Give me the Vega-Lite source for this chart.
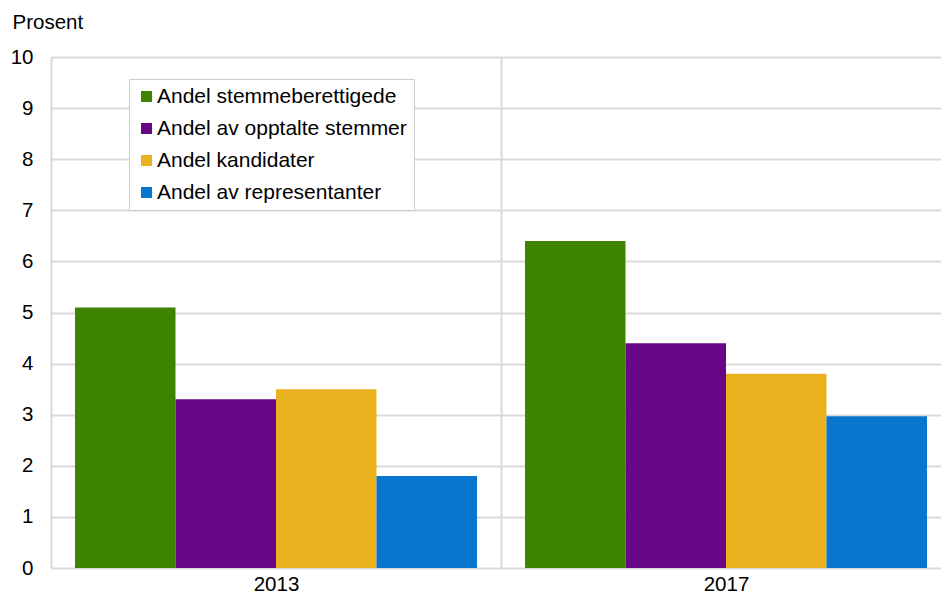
{
  "$schema": "https://vega.github.io/schema/vega-lite/v6.json",
  "autosize": "none",
  "padding": {"left": 51, "top": 57, "right": 0, "bottom": 27},
  "width": 900,
  "height": 511,
  "background": "white",
  "config": {
    "font": "Liberation Sans",
    "view": {"stroke": null}
  },
  "data": {
    "values": [
      {"year": "2013", "serie": "Andel stemmeberettigede", "value": 5.1},
      {"year": "2013", "serie": "Andel av opptalte stemmer", "value": 3.3},
      {"year": "2013", "serie": "Andel kandidater", "value": 3.5},
      {"year": "2013", "serie": "Andel av representanter", "value": 1.8},
      {"year": "2017", "serie": "Andel stemmeberettigede", "value": 6.4},
      {"year": "2017", "serie": "Andel av opptalte stemmer", "value": 4.4},
      {"year": "2017", "serie": "Andel kandidater", "value": 3.8},
      {"year": "2017", "serie": "Andel av representanter", "value": 2.97}
    ]
  },
  "mark": {"type": "bar"},
  "encoding": {
    "x": {
      "field": "year",
      "type": "nominal",
      "scale": {"paddingInner": 0, "paddingOuter": 0},
      "axis": {
        "title": null,
        "labelAngle": 0,
        "labelFont": "Liberation Sans",
        "labelFontSize": 20.5,
        "labelColor": "#000000",
        "labelPadding": 6,
        "ticks": false,
        "domain": false,
        "grid": true,
        "tickBand": "extent",
        "gridColor": "#d9d9d9",
        "gridWidth": 2,
        "gridOpacity": 1
      }
    },
    "xOffset": {
      "field": "serie",
      "type": "nominal",
      "sort": ["Andel stemmeberettigede", "Andel av opptalte stemmer", "Andel kandidater", "Andel av representanter"],
      "scale": {"paddingInner": 0, "paddingOuter": 0.2388}
    },
    "y": {
      "field": "value",
      "type": "quantitative",
      "scale": {"domain": [0, 10], "nice": false},
      "axis": {
        "title": "Prosent",
        "titleAngle": 0,
        "titleAlign": "left",
        "titleBaseline": "middle",
        "titleX": -39,
        "titleY": -35,
        "titleFont": "Liberation Sans",
        "titleFontSize": 20.5,
        "titleFontWeight": "normal",
        "titleColor": "#000000",
        "values": [0, 1, 2, 3, 4, 5, 6, 7, 8, 9, 10],
        "labelFont": "Liberation Sans",
        "labelFontSize": 20.5,
        "labelColor": "#000000",
        "labelPadding": 18,
        "ticks": false,
        "domain": false,
        "gridColor": "#d9d9d9",
        "gridWidth": 2,
        "gridOpacity": 1
      }
    },
    "color": {
      "field": "serie",
      "type": "nominal",
      "sort": ["Andel stemmeberettigede", "Andel av opptalte stemmer", "Andel kandidater", "Andel av representanter"],
      "scale": {
        "domain": ["Andel stemmeberettigede", "Andel av opptalte stemmer", "Andel kandidater", "Andel av representanter"],
        "range": ["#3f8400", "#670785", "#ebb220", "#0875cf"]
      },
      "legend": {
        "title": null,
        "orient": "none",
        "legendX": 78,
        "legendY": 22,
        "fillColor": "white",
        "strokeColor": "#cccccc",
        "padding": 7,
        "symbolType": "square",
        "symbolSize": 121,
        "symbolStrokeWidth": 0,
        "symbolOpacity": 1,
        "labelFont": "Liberation Sans",
        "labelFontSize": 21,
        "labelLimit": 500,
        "labelColor": "#000000",
        "labelOffset": 0,
        "rowPadding": 10
      }
    }
  }
}
